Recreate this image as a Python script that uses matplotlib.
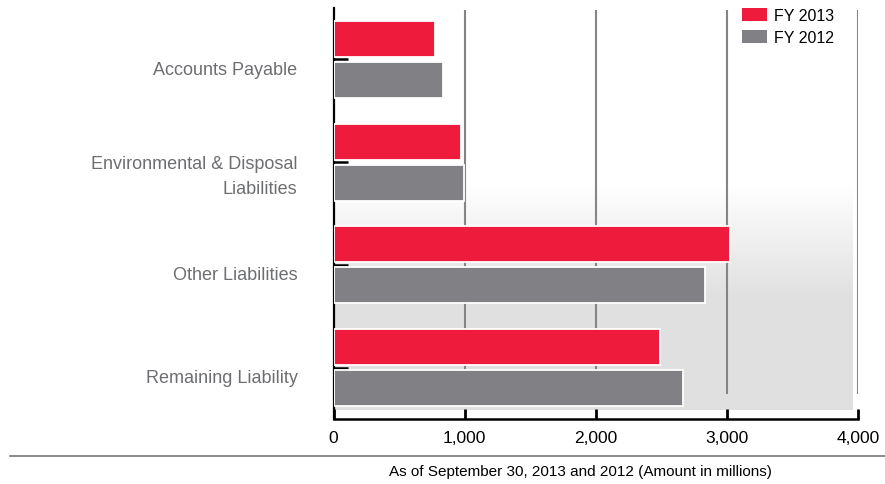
import matplotlib
matplotlib.use("Agg")
import matplotlib.pyplot as plt
import matplotlib.transforms as mtrans
import numpy as np
from matplotlib.patches import Patch
from matplotlib.lines import Line2D

plt.rcParams['font.family'] = ['Liberation Sans Narrow', 'Liberation Sans', 'DejaVu Sans']

# data (amount in millions)
categories = ["Accounts Payable", "Environmental & Disposal\nLiabilities",
              "Other Liabilities", "Remaining Liability"]
fy2013 = [775, 970, 3024, 2492]
fy2012 = [836, 994, 2834, 2669]
xticks = [0, 1000, 2000, 3000, 4000]
xticklabels = ["0", "1,000", "2,000", "3,000", "4,000"]

red = "#ee1b3c"
gray = "#818085"
labelGray = "#6d6e71"

fig = plt.figure(figsize=(8.85, 4.85), dpi=100)
W, H = 885.0, 485.0
ax = fig.add_axes([333.5 / W, 1 - 420 / H, (858 - 333.5) / W, (420 - 9) / H])

y = np.arange(len(categories))
barH = 0.35

ax.barh(y - 0.2, fy2013, height=barH, color=red, edgecolor="white", linewidth=1.3, zorder=3)
ax.barh(y + 0.2, fy2012, height=barH, color=gray, edgecolor="white", linewidth=1.3, zorder=3)

ax.set_xlim(0, 4000)
ax.set_ylim(3.5, -0.5)

# background gradient panel
grad = np.ones((200, 1, 3))
t = np.linspace(0, 1, 200)
shade = np.clip(t / 0.5, 0, 1)
for c in range(3):
    grad[:, 0, c] = 1.0 - shade * (1.0 - 0.88)
ax.imshow(grad, extent=[0, 3955, 3.41, 1.22], aspect="auto", zorder=0, interpolation="bilinear")

# gridlines
ax.vlines(xticks[1:], -0.48, 3.26, color="#858585", linewidth=1.5, zorder=1)

# axes styling
for s in ["top", "right"]:
    ax.spines[s].set_visible(False)
ax.spines["left"].set_color("black")
ax.spines["left"].set_linewidth(1.6)
ax.spines["bottom"].set_color("black")
ax.spines["bottom"].set_linewidth(1.8)

ax.set_yticks(y)
ax.set_yticklabels(categories, fontsize=13, color=labelGray, ha="right", linespacing=1.6)
ax.tick_params(axis="y", direction="in", length=10, width=1.8, color="black", pad=26)
shift = mtrans.ScaledTranslation(0, -0.08, fig.dpi_scale_trans)
for lab in ax.get_yticklabels():
    lab.set_transform(lab.get_transform() + shift)

ax.set_xticks(xticks)
ax.set_xticklabels(xticklabels, fontsize=12.5, color="black")
ax.tick_params(axis="x", direction="in", length=7, width=2, color="black", pad=8)

# legend
handles = [Patch(facecolor=red, label="FY 2013"), Patch(facecolor=gray, label="FY 2012")]
fig.legend(handles=handles, loc="upper left", bbox_to_anchor=(742 / W, 1 - 9 / H),
           frameon=False, fontsize=11.5, handlelength=1.55, handleheight=0.85,
           handletextpad=0.45, labelspacing=0.45, borderpad=0, borderaxespad=0)

# separator line and caption
fig.add_artist(Line2D([10 / W, 1.0], [1 - 457 / H, 1 - 457 / H], color="#777777", linewidth=1.2))
fig.text(580 / W, 1 - 472 / H, "As of September 30, 2013 and 2012 (Amount in millions)",
         ha="center", va="center", fontsize=11, color="black")

fig.savefig("out.png", dpi=100)
